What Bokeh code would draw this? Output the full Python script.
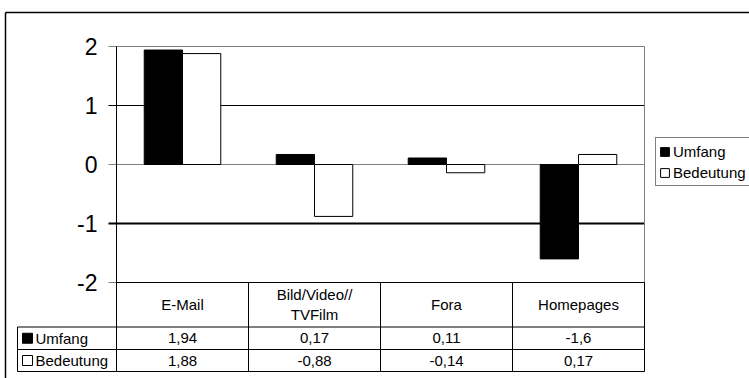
from bokeh.plotting import figure
from bokeh.models import Range1d, Legend, LegendItem
from bokeh.core.properties import value
from bokeh.embed import file_html
from bokeh.resources import INLINE

# ---- data -------------------------------------------------------------
categories = ["E-Mail", "Bild/Video//\nTVFilm", "Fora", "Homepages"]
series_names = ["Umfang", "Bedeutung"]
umfang = [1.94, 0.17, 0.11, -1.6]
bedeutung = [1.88, -0.88, -0.14, 0.17]
y_ticks = [-2, -1, 0, 1, 2]
y_tick_labels = ["-2", "-1", "0", "1", "2"]

# ---- layout (pixels on the 749 x 378 page) ----------------------------
W, H = 749, 378
PLOT_L, PLOT_R = 116, 644        # plot area left / right
PLOT_T, PLOT_B = 46, 282         # pixel rows of the value axis ends
Y_MAX, Y_MIN = 2, -2
N = len(categories)
FONT_NAME = "Liberation Sans"
FONT = value(FONT_NAME)
TABLE_FONT_SIZE = "15px"


def dx(px):
    """page pixel column -> category units"""
    return (px - PLOT_L) / (PLOT_R - PLOT_L) * N


def dy(py):
    """page pixel row -> value units"""
    return Y_MAX - (py - PLOT_T) / (PLOT_B - PLOT_T) * (Y_MAX - Y_MIN)


def fmt(v):
    return f"{v:g}".replace(".", ",")


p = figure(width=W, height=H,
           x_range=Range1d(dx(0), dx(W)), y_range=Range1d(dy(H), dy(0)),
           output_backend="svg", toolbar_location=None,
           x_axis_location=None, y_axis_location=None,
           min_border=0, outline_line_color=None,
           background_fill_color="white", border_fill_color="white")
p.grid.visible = False

# outer chart frame
p.segment(x0=[dx(5), dx(5)], y0=[dy(12), dy(12)],
          x1=[dx(W + 5), dx(5)], y1=[dy(12), dy(H + 5)],
          line_color="black", line_width=1.5)

# horizontal grid lines with their tick stubs
TICK_X0 = dx(108)
grid_colors = ["#808080" if t in (Y_MIN, 0, Y_MAX) else "black" for t in y_ticks]
grid_widths = [2 if t == -1 else 1 for t in y_ticks]
p.segment(x0=[TICK_X0] * len(y_ticks), x1=[N] * len(y_ticks),
          y0=y_ticks, y1=y_ticks, line_color=grid_colors, line_width=grid_widths)
# right border of the plot area
p.segment(x0=[N], x1=[N], y0=[Y_MIN], y1=[Y_MAX], line_color="#808080", line_width=1)

# bars
BAR_W = 0.29
centers = [i + 0.5 for i in range(N)]
r_umf = p.vbar(x=[c - BAR_W / 2 for c in centers], width=BAR_W, top=umfang, bottom=0,
               fill_color="black", line_color="black", line_width=1)
r_bed = p.vbar(x=[c + BAR_W / 2 for c in centers], width=BAR_W, top=bedeutung, bottom=0,
               fill_color="white", line_color="black", line_width=1)

# value axis line (continues as the first table column line)
ROW_TOP, ROW_MID, ROW_BOT = 326.5, 349, 371
p.segment(x0=[0], x1=[0], y0=[Y_MAX], y1=[dy(ROW_BOT)], line_color="black", line_width=1)
p.text(x=[dx(97)] * len(y_ticks), y=y_ticks, text=y_tick_labels,
       text_font=FONT, text_font_size="23px", text_color="black",
       text_align="right", text_baseline="middle")

# data table below the plot
TABLE_L = dx(17)
p.segment(x0=[0, TABLE_L, TABLE_L, TABLE_L], x1=[N] * 4,
          y0=[Y_MIN, dy(ROW_TOP), dy(ROW_MID), dy(ROW_BOT)],
          y1=[Y_MIN, dy(ROW_TOP), dy(ROW_MID), dy(ROW_BOT)],
          line_color="black", line_width=1)
col_x = list(range(N + 1))
p.segment(x0=col_x, x1=col_x, y0=[Y_MIN] * len(col_x), y1=[dy(ROW_BOT)] * len(col_x),
          line_color="black", line_width=1)
p.segment(x0=[TABLE_L], x1=[TABLE_L], y0=[dy(ROW_TOP)], y1=[dy(ROW_BOT)],
          line_color="black", line_width=1)

p.text(x=centers, y=[dy((PLOT_B + ROW_TOP) / 2)] * N, text=categories,
       text_font=FONT, text_font_size=TABLE_FONT_SIZE, text_color="black",
       text_align="center", text_baseline="middle", text_line_height=1.2)

row_y = [dy((ROW_TOP + ROW_MID) / 2), dy((ROW_MID + ROW_BOT) / 2)]
for vals, y in zip([umfang, bedeutung], row_y):
    p.text(x=centers, y=[y] * N, text=[fmt(v) for v in vals],
           text_font=FONT, text_font_size=TABLE_FONT_SIZE, text_color="black",
           text_align="center", text_baseline="middle")

p.scatter(x=[dx(27)] * 2, y=row_y, marker="square", size=10,
          fill_color=["black", "white"], line_color="black", line_width=1)
p.text(x=[dx(35)] * 2, y=row_y, text=series_names,
       text_font=FONT, text_font_size=TABLE_FONT_SIZE, text_color="black",
       text_align="left", text_baseline="middle")

# legend at the right
legend = Legend(items=[LegendItem(label=series_names[0], renderers=[r_umf]),
                       LegendItem(label=series_names[1], renderers=[r_bed])],
                location=(655, H - 186), orientation="vertical",
                glyph_width=11, glyph_height=11, label_standoff=3,
                label_height=20, label_width=74, spacing=1, padding=3, margin=0,
                label_text_font=FONT_NAME, label_text_font_size=TABLE_FONT_SIZE,
                label_text_color="black",
                border_line_color="black", border_line_width=1,
                background_fill_color="white", background_fill_alpha=1)
p.add_layout(legend)

open("out.html", "w").write(file_html(p, INLINE))
